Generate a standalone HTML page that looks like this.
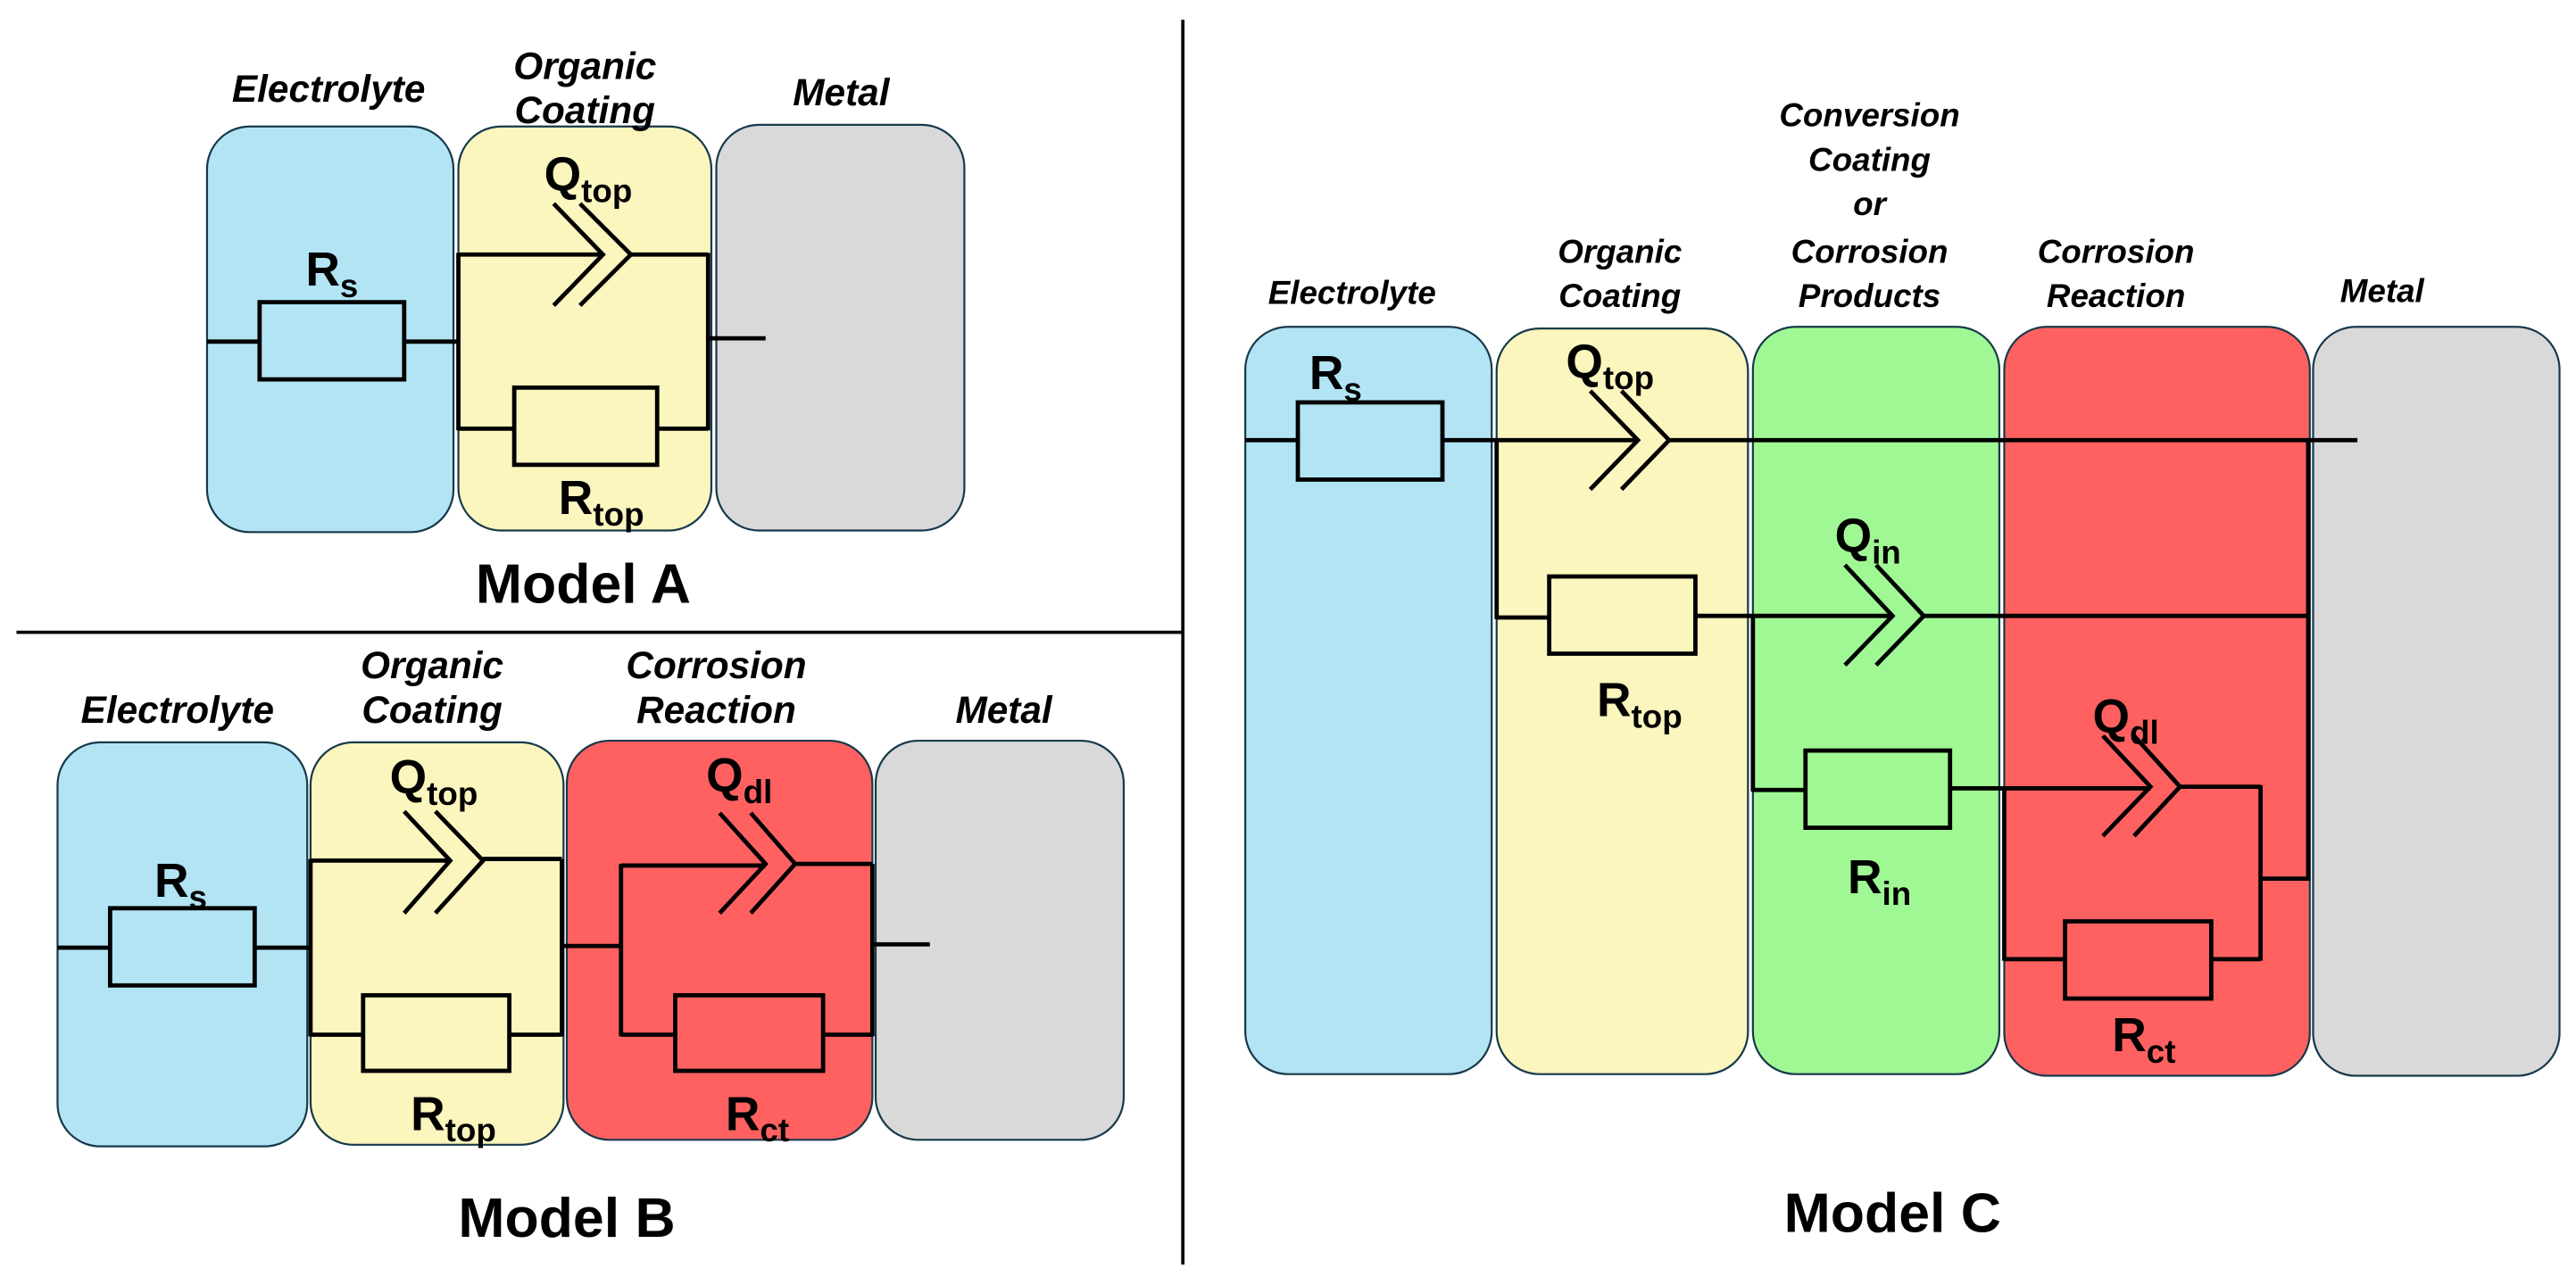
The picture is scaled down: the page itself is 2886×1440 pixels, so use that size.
<!DOCTYPE html>
<html><head><meta charset="utf-8"><style>
html,body{margin:0;padding:0;background:#fff}
svg{display:block}
text{font-family:"Liberation Sans",sans-serif;fill:#000}
.lab{font-style:italic;font-weight:bold;font-size:20px;text-anchor:middle}
.labb{font-style:italic;font-weight:bold;font-size:23px;text-anchor:middle}
.el{font-weight:bold;font-size:29px;text-anchor:middle}
.sub{font-size:20px}
.title{font-weight:bold;font-size:34px;text-anchor:middle}
.w{stroke:#000;stroke-width:2.6;fill:none}
.bx{stroke:#17394a;stroke-width:1.2}
</style></head><body>
<svg width="2886" height="1440" viewBox="0 0 1568 782.4" xmlns="http://www.w3.org/2000/svg">
<rect width="1568" height="782.4" fill="#fff"/>
<line x1="10" y1="385" x2="720" y2="385" stroke="#000" stroke-width="2"/>
<line x1="720" y1="12" x2="720" y2="770" stroke="#000" stroke-width="2"/>

<!-- ===== Model A ===== -->
<rect class="bx" x="126" y="77" width="150" height="247" rx="26" fill="#b2e4f4"/>
<rect class="bx" x="279" y="77" width="154" height="246" rx="26" fill="#fbf5be"/>
<rect class="bx" x="436" y="76" width="151" height="247" rx="26" fill="#d9d9d9"/>
<text class="labb" x="200" y="62">Electrolyte</text>
<text class="labb" x="356" y="48">Organic</text>
<text class="labb" x="356" y="75">Coating</text>
<text class="labb" x="512" y="64">Metal</text>
<path class="w" d="M126 208H158M246 208H279M279 154V262M279 155H367M384 155H431M431 154V262M279 261H313M400 261H431M431 206H466"/>
<rect class="w" x="158" y="184" width="88" height="47"/>
<rect class="w" x="313" y="236" width="87" height="47"/>
<path class="w" d="M337 124L367 155L337 186M353 124L384 155L353 186"/>
<text class="el" x="202" y="174">R<tspan class="sub" dy="7">s</tspan></text>
<text class="el" x="358" y="116">Q<tspan class="sub" dy="7">top</tspan></text>
<text class="el" x="366" y="313">R<tspan class="sub" dy="7">top</tspan></text>
<text class="title" x="355" y="367">Model A</text>

<!-- ===== Model B ===== -->
<rect class="bx" x="35" y="452" width="152" height="246" rx="26" fill="#b2e4f4"/>
<rect class="bx" x="189" y="452" width="154" height="245" rx="26" fill="#fbf5be"/>
<rect class="bx" x="345" y="451" width="186" height="243" rx="26" fill="#ff6161"/>
<rect class="bx" x="533" y="451" width="151" height="243" rx="26" fill="#d9d9d9"/>
<text class="labb" x="108" y="440">Electrolyte</text>
<text class="labb" x="263" y="413">Organic</text>
<text class="labb" x="263" y="440">Coating</text>
<text class="labb" x="436" y="413">Corrosion</text>
<text class="labb" x="436" y="440">Reaction</text>
<text class="labb" x="611" y="440">Metal</text>
<path class="w" d="M35 577H67M155 577H189M189 523V631M189 524H274M294 523H342M342 523V631M189 630H221M310 630H342M342 576H378M378 526V631M378 527H466M484 526H531M531 526V631M378 630H410M500 630H531M531 575H566"/>
<rect class="w" x="67" y="553" width="88" height="47"/>
<rect class="w" x="221" y="606" width="89" height="46"/>
<rect class="w" x="411" y="606" width="90" height="46"/>
<path class="w" d="M246 494L274 524L246 556M265 494L294 524L265 556M438 495L466 526L438 556M457 495L484 526L457 556"/>
<text class="el" x="110" y="546">R<tspan class="sub" dy="7">s</tspan></text>
<text class="el" x="264" y="483">Q<tspan class="sub" dy="7">top</tspan></text>
<text class="el" x="450" y="482">Q<tspan class="sub" dy="7">dl</tspan></text>
<text class="el" x="276" y="688">R<tspan class="sub" dy="7">top</tspan></text>
<text class="el" x="461" y="688">R<tspan class="sub" dy="7">ct</tspan></text>
<text class="title" x="345" y="753">Model B</text>

<!-- ===== Model C ===== -->
<rect class="bx" x="758" y="199" width="150" height="455" rx="26" fill="#b2e4f4"/>
<rect class="bx" x="911" y="200" width="153" height="454" rx="26" fill="#fbf5be"/>
<rect class="bx" x="1067" y="199" width="150" height="455" rx="26" fill="#a0f894"/>
<rect class="bx" x="1220" y="199" width="186" height="456" rx="26" fill="#ff6161"/>
<rect class="bx" x="1408" y="199" width="150" height="456" rx="26" fill="#d9d9d9"/>
<text class="lab" x="823" y="185">Electrolyte</text>
<text class="lab" x="986" y="160">Organic</text>
<text class="lab" x="986" y="187">Coating</text>
<text class="lab" x="1138" y="77">Conversion</text>
<text class="lab" x="1138" y="104">Coating</text>
<text class="lab" x="1138" y="131">or</text>
<text class="lab" x="1138" y="160">Corrosion</text>
<text class="lab" x="1138" y="187">Products</text>
<text class="lab" x="1288" y="160">Corrosion</text>
<text class="lab" x="1288" y="187">Reaction</text>
<text class="lab" x="1450" y="184">Metal</text>
<path class="w" d="M758 268H790M878 268H997M1016 268H1435M911 268V377M911 376H943M1032 375H1152M1171 375H1405M1405 267V536M1067 375V482M1067 481H1099M1187 480H1309M1327 479H1376M1376 478V585M1376 535H1406M1220 480V585M1220 584H1257M1346 584H1376"/>
<rect class="w" x="790" y="245" width="88" height="47"/>
<rect class="w" x="943" y="351" width="89" height="47"/>
<rect class="w" x="1099" y="457" width="88" height="47"/>
<rect class="w" x="1257" y="561" width="89" height="47"/>
<path class="w" d="M968 238L997 268L968 298M987 238L1016 268L987 298M1123 344L1152 375L1123 405M1142 344L1171 375L1142 405M1280 448L1309 479L1280 509M1299 448L1327 479L1299 509"/>
<text class="el" x="813" y="237">R<tspan class="sub" dy="7">s</tspan></text>
<text class="el" x="980" y="230">Q<tspan class="sub" dy="7">top</tspan></text>
<text class="el" x="1137" y="336">Q<tspan class="sub" dy="7">in</tspan></text>
<text class="el" x="998" y="436">R<tspan class="sub" dy="7">top</tspan></text>
<text class="el" x="1144" y="544">R<tspan class="sub" dy="7">in</tspan></text>
<text class="el" x="1294" y="446">Q<tspan class="sub" dy="7">dl</tspan></text>
<text class="el" x="1305" y="640">R<tspan class="sub" dy="7">ct</tspan></text>
<text class="title" x="1152" y="750">Model C</text>
</svg>
</body></html>
